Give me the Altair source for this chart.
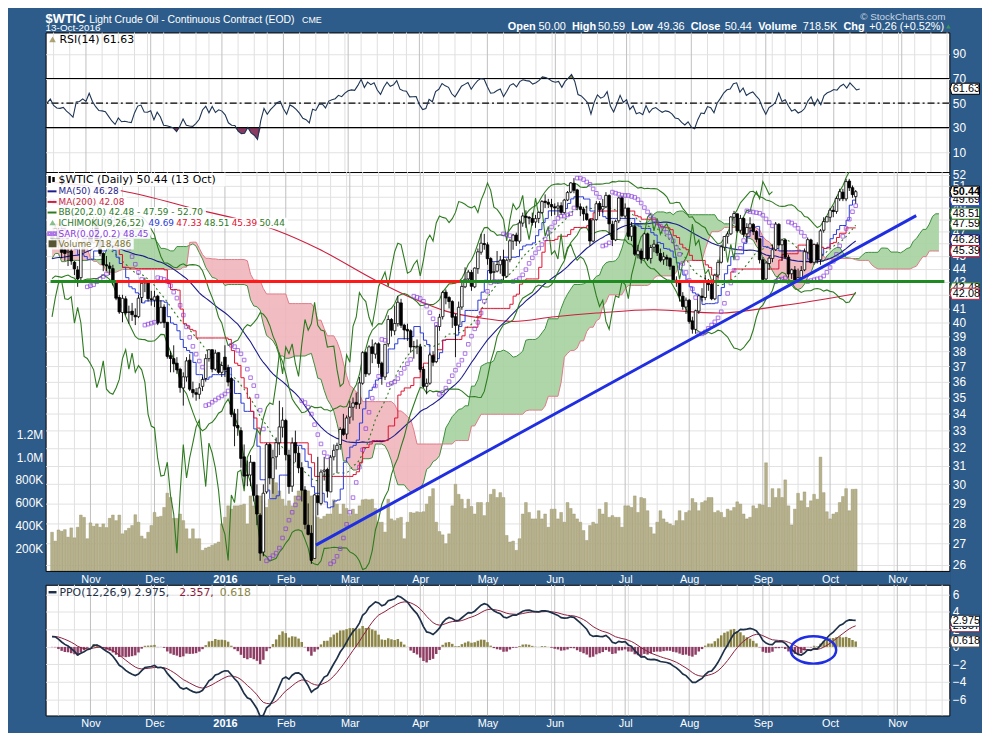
import altair as alt
import numpy as np
import pandas as pd

FONT = "Liberation Sans"
LFONT = "DejaVu Sans"
BG = "#2e5c8a"

# ---------------- values ----------------
# warm-up closes before the visible window (1 Jul 2015 - 14 Oct 2015)
pre_close = [56.96, 56.93, 52.53, 52.33, 51.65, 52.78, 52.74, 52.20, 53.04, 51.41,
             50.91, 50.89, 50.15, 50.36, 49.19, 48.45, 48.14, 47.39, 47.98, 48.79,
             48.52, 47.12,
             45.17, 45.74, 45.15, 44.66, 43.87, 44.96, 43.08, 43.30, 42.23, 42.50,
             41.87, 42.62, 40.80, 41.14, 40.45, 38.24, 39.31, 38.60, 42.56, 45.22, 49.20,
             45.41, 46.25, 46.75, 46.05, 45.94, 44.15, 45.92, 44.63, 44.00, 45.59,
             47.15, 46.90, 44.68, 46.68, 45.83, 44.48, 44.91, 45.70, 44.43, 45.23, 45.09,
             44.74, 45.54, 46.26, 48.53, 47.81, 49.43, 49.63, 47.10, 46.66, 46.64]

# daily candles 15 Oct 2015 - 13 Oct 2016
opens = [46.6, 46.4, 47.1, 45.9, 45.5, 45.3, 45.4, 44.5, 43.9, 43.3, 45.9, 46.1,
         46.6, 46.1, 47.9, 46.3, 45.2, 44.3, 44.2, 44.0, 42.9, 41.8, 40.7, 41.7, 40.7, 40.8, 40.5, 40.4, 41.8, 42.9, 43.0, 41.7,
         41.6, 41.9, 40.0, 41.1, 40.0, 37.7, 37.5, 37.2, 36.8, 35.6, 36.3, 37.4, 35.5, 35.3, 35.2, 35.7, 36.2, 37.5, 38.1, 36.8, 37.9, 36.6,
         37.6, 36.9, 36.2, 34.0, 33.3, 33.0, 31.5, 30.5, 30.5, 31.2, 29.4, 28.4, 26.6, 29.6, 32.2, 30.3, 31.5, 32.3, 33.2,
         33.6, 31.6, 29.9, 32.3, 31.7, 30.9, 29.7, 27.9, 27.5, 26.3, 29.4, 29.0, 30.7, 30.8, 29.6, 31.5, 31.9, 32.2, 33.1, 32.8,
         33.8, 34.4, 34.7, 34.6, 35.9, 37.9, 36.5, 38.3, 37.8, 38.5, 37.2, 36.3, 38.5, 40.2, 39.4, 39.9, 41.4, 39.8, 39.5, 39.4, 38.3, 38.3,
         38.3, 36.8, 35.7, 35.9, 37.7, 37.3, 39.7, 40.4, 42.2, 41.8, 41.5, 40.4, 39.8, 41.1, 42.6, 43.2, 43.7, 42.6, 44.0, 45.3, 46.0,
         45.9, 44.8, 43.7, 43.8, 44.3, 44.7, 43.4, 44.7, 46.2, 46.7, 46.2, 47.7, 48.3, 48.2, 48.1, 47.8, 48.1, 48.6, 49.6, 49.5, 49.3,
         49.1, 49.0, 49.2, 48.6, 49.7, 50.4, 51.2, 50.6, 49.1, 48.9, 48.5, 48.0, 46.2, 48.0, 49.4, 48.9, 49.1, 50.1, 47.6, 46.3, 47.9, 49.9,
         48.3, 49.0, 46.6, 47.4, 45.1, 45.4, 44.8, 46.8, 44.8, 45.7, 45.9, 45.2, 44.7, 44.9, 44.8, 44.2, 43.1, 42.9, 41.9, 41.1,
         41.6, 40.1, 39.5, 40.8, 41.9, 41.8, 43.0, 42.8, 41.7, 43.5, 44.5, 45.7, 46.6, 46.8, 48.2, 48.5, 47.1, 48.1, 46.8, 47.3, 47.6, 47.0, 46.4,
         44.7, 43.2, 44.4, 44.8, 45.5, 47.6, 45.9, 46.3, 44.9, 43.6, 43.9, 43.0, 43.3, 43.9, 45.3, 46.3, 44.5, 45.9, 44.7, 47.1, 47.8,
         48.2, 48.8, 48.7, 49.8, 50.4, 49.8, 51.4, 50.8, 50.00]
highs = [47.0, 47.6, 47.3, 46.3, 46.0, 45.8, 45.6, 44.6, 44.2, 46.1, 46.5, 46.8,
         46.8, 48.2, 48.2, 46.6, 45.3, 45.0, 44.5, 44.3, 43.0, 42.0, 42.0, 41.9, 41.2, 41.4, 41.0, 42.0, 43.0, 43.3, 43.1, 42.3,
         42.3, 42.0, 41.6, 41.3, 40.0, 38.0, 38.4, 37.6, 36.9, 36.6, 37.6, 37.8, 36.0, 35.6, 35.9, 36.3, 37.8, 38.1, 38.1, 38.1, 37.9, 37.3,
         38.4, 37.1, 36.3, 34.3, 34.3, 33.2, 32.2, 31.3, 31.6, 31.2, 30.0, 28.5, 30.0, 32.3, 32.3, 31.9, 32.6, 34.8, 34.4,
         33.7, 31.9, 32.6, 33.0, 32.1, 31.2, 29.9, 29.0, 27.9, 29.5, 31.5, 30.8, 31.5, 30.9, 31.6, 32.2, 32.3, 33.2, 34.0, 33.9,
         34.8, 35.0, 35.3, 36.3, 38.0, 38.0, 38.4, 38.8, 38.6, 38.6, 37.3, 38.5, 40.5, 40.3, 41.2, 41.9, 41.7, 39.9, 39.9, 39.5, 38.7, 38.8,
         38.5, 37.0, 36.2, 37.9, 38.0, 39.8, 40.6, 42.3, 42.4, 41.9, 41.6, 40.6, 41.5, 42.9, 44.1, 43.9, 43.9, 44.1, 45.6, 46.8, 46.8,
         46.1, 44.9, 44.5, 45.4, 45.0, 45.5, 44.8, 46.4, 46.8, 46.9, 48.0, 48.6, 48.8, 48.3, 48.6, 48.4, 48.7, 49.7, 50.2, 49.8, 49.8,
         49.4, 49.5, 49.5, 49.8, 50.5, 51.3, 51.67, 50.7, 49.4, 49.1, 49.2, 48.1, 48.1, 49.6, 49.6, 49.8, 50.4, 50.2, 47.9, 48.0, 50.0, 50.1,
         49.4, 49.0, 47.8, 47.6, 45.9, 45.6, 46.9, 46.9, 45.9, 46.3, 46.1, 45.6, 45.3, 45.1, 44.9, 44.2, 43.4, 43.0, 42.2, 41.8,
         41.7, 40.4, 40.9, 42.0, 42.5, 43.5, 43.2, 43.0, 43.6, 44.7, 45.9, 46.6, 47.0, 48.3, 48.75, 48.5, 48.4, 48.2, 47.7, 48.2, 47.7, 47.1, 46.4,
         44.9, 44.6, 45.0, 45.9, 47.8, 47.7, 46.4, 46.4, 45.1, 44.0, 44.2, 44.0, 44.2, 45.6, 46.5, 46.4, 46.0, 46.1, 47.2, 48.2, 48.3,
         49.0, 49.2, 50.0, 50.7, 50.7, 51.6, 51.6, 51.0, 50.59]
lows = [45.6, 46.2, 45.6, 44.8, 44.6, 44.2, 44.3, 43.5, 42.6, 43.0, 45.3, 45.7,
        45.9, 46.0, 46.1, 45.0, 43.8, 43.8, 43.5, 42.7, 41.6, 40.6, 40.0, 40.5, 39.9, 40.1, 39.8, 40.3, 41.4, 42.2, 41.5, 41.2,
        41.1, 39.8, 39.9, 39.6, 37.5, 36.6, 36.6, 36.5, 35.3, 34.5, 36.0, 35.4, 35.0, 34.8, 34.9, 35.4, 36.0, 37.3, 36.6, 36.7, 36.5, 36.3,
        36.3, 35.7, 33.8, 32.1, 32.7, 30.9, 29.9, 29.9, 29.9, 29.1, 27.9, 26.19, 26.4, 29.5, 30.0, 29.5, 30.8, 31.6, 32.6,
        31.3, 29.5, 29.6, 31.2, 30.6, 29.1, 27.7, 27.4, 26.05, 26.3, 28.4, 28.9, 30.2, 29.3, 29.6, 31.3, 30.6, 31.9, 32.7, 32.5,
        33.4, 33.6, 34.3, 34.3, 35.8, 36.3, 36.4, 37.2, 37.5, 36.9, 35.8, 36.1, 38.3, 39.0, 39.1, 39.7, 39.6, 38.8, 38.7, 37.9, 37.5, 37.8,
        36.6, 35.6, 35.2, 35.8, 37.0, 37.2, 39.4, 40.2, 41.3, 41.0, 39.6, 37.6, 39.4, 40.9, 42.5, 42.9, 42.3, 42.5, 43.6, 45.1, 45.5,
        44.3, 43.0, 43.0, 43.7, 43.6, 43.0, 43.3, 44.5, 45.5, 45.8, 46.0, 47.4, 47.3, 47.6, 47.5, 47.3, 47.7, 48.5, 49.0, 49.0, 48.3,
        48.4, 48.3, 48.4, 48.5, 49.6, 50.3, 50.3, 48.8, 48.3, 47.9, 47.9, 45.8, 46.1, 47.9, 48.3, 48.6, 49.0, 46.7, 45.8, 46.2, 47.7, 48.2,
        48.1, 46.3, 46.2, 45.0, 44.8, 44.4, 44.7, 44.6, 44.4, 45.3, 45.0, 44.5, 44.3, 44.2, 43.9, 42.9, 42.6, 41.5, 40.9, 40.6,
        39.9, 39.2, 39.19, 40.6, 41.5, 41.6, 42.3, 41.6, 41.6, 43.3, 44.4, 45.4, 46.0, 46.7, 47.6, 46.9, 46.9, 46.5, 46.1, 46.9, 46.7, 46.1, 44.4,
        43.0, 43.0, 43.9, 44.5, 45.4, 45.6, 44.6, 44.8, 43.3, 43.2, 43.06, 43.1, 43.1, 43.8, 45.2, 44.4, 44.3, 44.4, 44.3, 46.9, 47.85,
        47.78, 48.2, 48.5, 49.6, 49.6, 49.6, 50.5, 49.9, 49.36]
closes = [46.38, 47.26, 45.89, 45.29, 45.20, 45.38, 44.60, 43.98, 43.20, 45.94, 46.06, 46.59,
          46.14, 47.90, 46.32, 45.20, 44.29, 44.21, 44.02, 42.93, 41.75, 40.74, 41.74, 40.67, 40.75, 40.54, 40.39, 41.75, 42.87, 43.04, 41.71, 41.65,
          41.85, 39.94, 41.08, 39.97, 37.65, 37.51, 37.16, 36.76, 35.62, 36.31, 37.35, 35.52, 35.30, 35.20, 35.60, 36.14, 37.50, 38.10, 36.81, 37.87, 36.60, 37.04,
          36.76, 35.97, 33.97, 33.27, 33.16, 31.41, 30.44, 30.48, 31.20, 29.42, 28.46, 26.55, 29.53, 32.19, 30.34, 31.45, 32.30, 33.22, 33.62,
          31.62, 29.88, 32.28, 31.72, 30.89, 29.69, 27.94, 27.45, 26.21, 29.44, 29.04, 30.66, 30.77, 29.64, 31.48, 31.87, 32.15, 33.07, 32.78, 33.75,
          34.40, 34.66, 34.57, 35.92, 37.90, 36.50, 38.29, 37.84, 38.50, 37.18, 36.34, 38.46, 40.20, 39.44, 39.91, 41.45, 39.79, 39.46, 39.39, 38.28, 38.32, 38.34,
          36.79, 35.70, 35.89, 37.75, 37.26, 39.72, 40.36, 42.17, 41.76, 41.50, 40.36, 39.78, 41.08, 42.63, 43.18, 43.73, 42.64, 44.04, 45.33, 46.03, 45.92,
          44.78, 43.65, 43.78, 44.32, 44.66, 43.44, 44.66, 46.23, 46.70, 46.21, 47.72, 48.31, 48.19, 48.12, 47.75, 48.08, 48.62, 49.56, 49.48, 49.33, 49.10,
          49.01, 49.17, 48.62, 49.69, 50.36, 51.23, 50.56, 49.07, 48.88, 48.49, 48.01, 46.21, 47.98, 49.37, 48.85, 49.13, 50.11, 47.64, 46.33, 47.85, 49.88, 48.33,
          48.99, 46.60, 47.43, 45.14, 45.41, 44.76, 46.80, 44.75, 45.68, 45.95, 45.24, 44.65, 44.94, 44.75, 44.19, 43.13, 42.92, 41.92, 41.14, 41.60,
          40.06, 39.51, 40.83, 41.93, 41.80, 43.02, 42.77, 41.71, 43.49, 44.49, 45.74, 46.58, 46.79, 48.22, 48.52, 47.05, 48.10, 46.77, 47.33, 47.64, 46.98, 46.35, 44.70,
          43.16, 44.44, 44.83, 45.50, 47.62, 45.88, 46.29, 44.90, 43.58, 43.91, 43.03, 43.30, 43.85, 45.34, 46.32, 44.48, 45.93, 44.67, 47.05, 47.83, 48.24,
          48.81, 48.69, 49.83, 50.44, 49.81, 51.35, 50.79, 50.18, 50.44]
volume_k = [340, 262, 360, 349, 363, 297, 378, 291, 384, 491, 471, 283, 422, 393, 413, 384, 413, 381, 462, 491,
            442, 491, 326, 355, 375, 399, 494, 428, 306, 283, 340, 399, 514, 474, 480, 558, 683, 645, 462, 462,
            500, 442, 370, 283, 370, 283, 283, 181, 201, 210, 225, 239, 254, 413, 471, 572, 543, 572, 572, 578,
            587, 413, 659, 572, 578, 659, 616, 558, 630, 804, 775, 703, 630, 572, 616, 572, 659, 703, 717, 688,
            703, 659, 486, 471, 457, 480, 500,
            500, 625, 587, 500, 587, 549, 486, 543, 500, 572,
            625, 630, 625, 630, 549, 428, 428, 341, 630, 457,
            442, 462, 471, 283, 428, 514, 509, 520, 514, 520,
            587, 654, 723, 428, 346, 317, 239, 326, 572, 761,
            673, 630, 549, 630, 566, 500, 601, 601, 486, 601,
            673, 717, 645, 688, 645, 312, 254, 262, 181, 283,
            500, 601, 514, 457, 457, 529, 457, 500, 384, 543,
            543, 457, 514, 428, 601, 549, 500, 457, 428, 355,
            268, 399, 428, 413, 543, 500, 601, 471, 486, 471,
            471, 384, 572, 572, 558, 659, 514, 645, 636, 529,
            384, 326, 428, 529, 457, 428, 413, 399, 442, 529,
            442, 514, 529, 636, 601, 529, 601, 616, 645, 645,
            514, 529, 514, 471, 543, 529, 558, 607, 587, 500,
            457, 471, 572, 549, 587, 578, 950, 558, 723, 645,
            723, 645, 800, 572, 404, 543, 682, 616, 694, 558,
            616, 673, 630, 1000, 688, 520, 457, 500, 514, 601,
            654, 723, 529, 717, 718.5]
# 200-day moving average (trading-day index, value)
ma200_idx = [0, 22, 45, 70, 83, 101, 113, 123, 134, 144, 157, 170, 188, 208, 228, 251]
ma200_val = [51.3, 50.5, 48.9, 47.1, 45.6, 43.1, 41.7, 40.8, 40.3, 40.06, 40.4, 40.66, 40.9, 40.66, 41.2, 42.08]
# hand-drawn annotations
trend_idx = [82.4, 269.9]
trend_val = [26.93, 48.34]
level_price = 43.0
level_from = [-0.46, 20.0, 127.4, 194.6]
level_to = [20.0, 127.4, 278.7, 206.9]
level_col = ["#1f8a1f", "#ff1a1a", "#1f8a1f", "#ff1a1a"]
ellipse_idx = [237.8]
ellipse_val = [-0.35]
holidays = ["2015-07-03", "2015-09-07", "2015-11-26", "2015-12-25", "2016-01-01", "2016-01-18",
            "2016-02-15", "2016-03-25", "2016-05-30", "2016-07-04", "2016-09-05", "2016-11-24"]
price_ticks = list(range(26, 53))
main_tags = [(42.48, "42.48", "#2d7a1f"), (42.08, "42.08", "#cc1f3f"), (46.28, "46.28", "#1c1c8c"),
             (45.39, "45.39", "#e0102f"), (47.59, "47.59", "#2d7a1f"), (48.51, "48.51", "#2d7a1f"),
             (49.69, "49.69", "#2b3cd6"), (50.44, "50.44", "#000000")]
ppo_tags = [(2.357, "2.357", "#8b1d3c"), (2.975, "2.975", "#1d3048"), (0.618, "0.618", "#555555")]
rsi_tags = [(61.63, "61.63", "#000000")]

# ---------------- derived tables ----------------
n_pre = len(pre_close)
N = len(closes)
o = np.array(opens, float)
c = np.array(closes, float)
h = np.maximum.reduce([np.array(highs, float), o, c])
l = np.minimum.reduce([np.array(lows, float), o, c])

C_all = np.concatenate([pre_close, c])
H_all = np.concatenate([pre_close, h])
L_all = np.concatenate([pre_close, l])
sc, sh, sl = pd.Series(C_all), pd.Series(H_all), pd.Series(L_all)
ma50 = sc.rolling(50, min_periods=1).mean()
mid20 = sc.rolling(20).mean()
sd20 = sc.rolling(20).std(ddof=0)


def hl_mid(n):
    return (sh.rolling(n, min_periods=1).max() + sl.rolling(n, min_periods=1).min()) / 2


tenkan = hl_mid(9)
kijun = hl_mid(26)
senb = hl_mid(52)
sena = (tenkan + kijun) / 2

d = np.diff(C_all, prepend=C_all[0])
gain = np.clip(d, 0, None)
loss = np.clip(-d, 0, None)
ag = np.full(len(C_all), np.nan)
al = np.full(len(C_all), np.nan)
ag[14] = gain[1:15].mean()
al[14] = loss[1:15].mean()
for k in range(15, len(C_all)):
    ag[k] = (ag[k - 1] * 13 + gain[k]) / 14
    al[k] = (al[k - 1] * 13 + loss[k]) / 14
rsi = 100 - 100 / (1 + ag / al)

e12 = sc.ewm(span=12, adjust=False).mean()
e26 = sc.ewm(span=26, adjust=False).mean()
ppo = (e12 - e26) / e26 * 100
sig = ppo.ewm(span=9, adjust=False).mean()
hist = ppo - sig


def psar(hi, lo, af0=0.02, step=0.02, afmax=0.2):
    n = len(hi)
    out = np.zeros(n)
    up = True
    af = af0
    ep = hi[0]
    out[0] = lo[0]
    for i in range(1, n):
        s = out[i - 1] + af * (ep - out[i - 1])
        if up:
            s = min(s, lo[i - 1], lo[i - 2] if i > 1 else lo[i - 1])
            if lo[i] < s:
                up, s, ep, af = False, ep, lo[i], af0
            elif hi[i] > ep:
                ep = hi[i]
                af = min(af + step, afmax)
        else:
            s = max(s, hi[i - 1], hi[i - 2] if i > 1 else hi[i - 1])
            if hi[i] > s:
                up, s, ep, af = True, ep, hi[i], af0
            elif lo[i] < ep:
                ep = lo[i]
                af = min(af + step, afmax)
        out[i] = s
    return out


sar = psar(H_all, L_all)
m = slice(n_pre, n_pre + N)
df = pd.DataFrame({
    "i": np.arange(N), "o": o, "h": h, "l": l, "c": c, "v": np.array(volume_k) * 1000,
    "ma50": ma50.values[m], "bbu": (mid20 + 2 * sd20).values[m], "bbm": mid20.values[m],
    "bbl": (mid20 - 2 * sd20).values[m], "ten": tenkan.values[m], "kij": kijun.values[m],
    "sar": sar[m], "rsi": rsi[m], "ppo": ppo.values[m], "sig": sig.values[m], "hist": hist.values[m],
})
df["rsi_lo"] = np.minimum(df.rsi, 30)
df["rsi_hi"] = np.maximum(df.rsi, 70)
df["l30"] = 30.0
df["l70"] = 70.0
df["zero"] = 0.0

t = np.arange(n_pre - 26, n_pre + N)
a_ = sena.values[t]
b_ = senb.values[t]
cloud = pd.DataFrame({"i": t - n_pre + 26, "a": a_, "b": b_,
                      "g2": np.where(a_ >= b_, b_, a_), "p2": np.where(b_ > a_, a_, b_)})
t2 = np.arange(n_pre + 26, n_pre + N)
chik = pd.DataFrame({"i": t2 - n_pre - 26, "v": C_all[t2]})
ma200 = pd.DataFrame({"i": ma200_idx, "v": ma200_val})
trend = pd.DataFrame({"i": trend_idx, "v": trend_val})
levels = pd.DataFrame({"x0": level_from, "x1": level_to, "v": [level_price] * len(level_from), "col": level_col})
ell = pd.DataFrame({"i": ellipse_idx, "v": ellipse_val})

dates = pd.bdate_range("2015-07-01", "2016-11-30")
dates = dates[~dates.isin(pd.to_datetime(holidays))]
start = list(dates).index(pd.Timestamp("2015-10-15"))
dd = dates[start:]
LAST = 278
week_idx = [i for i in range(1, len(dd)) if i <= LAST and dd[i].weekday() <= dd[i - 1].weekday()]
month_idx = [i for i in range(1, len(dd)) if i <= LAST and dd[i].month != dd[i - 1].month]
month_lab = [str(dd[i].year) if dd[i].month == 1 else dd[i].strftime("%b") for i in month_idx]
year_idx = [i for i in month_idx if dd[i].month == 1][0]
weeks = pd.DataFrame({"g": [i for i in week_idx if i not in month_idx]})
months = pd.DataFrame({"g": month_idx})
one = pd.DataFrame({"k": [0]})

# ---------------- geometry / scales ----------------
W = 913
H_RSI, H_MAIN, STRIP, H_PPO = 141, 403, 14, 132
xsc = alt.Scale(domain=[-0.46, 278.7], nice=False, zero=False)
lab_expr = ("[" + ",".join("'%s'" % s for s in month_lab) + "][indexof(["
            + ",".join(str(v) for v in month_idx) + "], datum.value)]")


def xaxis(pad, offset=0, domain=False):
    return alt.Axis(values=month_idx, labelExpr=lab_expr, grid=False, ticks=False, domain=domain,
                    domainColor="black", domainWidth=1, offset=offset, zindex=1,
                    labelColor="white", labelFont=FONT, labelFontSize=11, labelPadding=pad,
                    labelFlush=False, labelOverlap=False, title=None, orient="bottom",
                    labelFontWeight={"condition": {"test": "datum.value == %d" % year_idx, "value": "bold"},
                                     "value": "normal"})


def yaxis(values):
    return alt.Axis(orient="right", values=values, grid=True, gridColor="#e2e2e2", ticks=False,
                    domain=False, labelColor="white", labelFont=FONT, labelFontSize=12, labelPadding=3,
                    labelOverlap=False, labelFlush=False, title=None)


def text(s, x, y, size=11, color="white", weight="normal", font=FONT, align="left"):
    return alt.Chart(one).mark_text(text=s, align=align, baseline="alphabetic", font=font, fontSize=size,
                                    fontWeight=weight, color=color).encode(x=alt.value(x), y=alt.value(y))


TAG = "M -1.12 0 L -1 -0.4 L 1 -0.4 L 1 0.4 L -1 0.4 Z"


def tag_layers(items, Yf):
    out = []
    for val, lab, col in items:
        dft = pd.DataFrame({"val": [val]})
        out.append(alt.Chart(dft).mark_point(shape=TAG, size=784, filled=True, fill="white", stroke=col,
                                             strokeWidth=1, opacity=1).encode(x=alt.value(W + 16.5), y=Yf("val")))
        out.append(alt.Chart(dft).mark_text(text=lab, align="left", baseline="middle", font=FONT, fontSize=11,
                                            fontWeight="bold" if lab == "50.44" else "normal",
                                            color="black").encode(x=alt.value(W + 3.5), y=Yf("val")))
    return out


def vgrid(axis):
    return [alt.Chart(weeks).mark_rule(color="#e0e0e0", strokeWidth=1).encode(x=alt.X("g:Q", scale=xsc, axis=axis)),
            alt.Chart(months).mark_rule(color="#bfbfbf", strokeWidth=1).encode(x=alt.X("g:Q", scale=xsc, axis=axis))]


# ---------------- RSI panel ----------------
rsc = alt.Scale(domain=[-6.2, 107.5], nice=False, zero=False)
rax = yaxis([10, 30, 50, 70, 90])


def Yr(f):
    return alt.Y(f + ":Q", scale=rsc, axis=rax, title=None)


Xr = alt.X("i:Q", scale=xsc, axis=None)
rlev = pd.DataFrame({"v": [70.0, 30.0]})
rsi_layers = vgrid(None) + [
    alt.Chart(df).mark_area(color="#8b3a62").encode(x=Xr, y=Yr("rsi_lo"), y2="l30"),
    alt.Chart(df).mark_area(color="#8c8546").encode(x=Xr, y=Yr("rsi_hi"), y2="l70"),
    alt.Chart(rlev).mark_rule(color="black", strokeWidth=1.2).encode(y=Yr("v")),
    alt.Chart(pd.DataFrame({"v": [50.0]})).mark_rule(color="black", strokeWidth=1.2,
                                                     strokeDash=[7, 3, 2, 3]).encode(y=Yr("v")),
    alt.Chart(df).mark_line(color="#1d3454", strokeWidth=1.1).encode(x=Xr, y=Yr("rsi")),
    alt.Chart(one).mark_point(shape="triangle-up", size=45, filled=True, color="#8b7d3a").encode(
        x=alt.value(7), y=alt.value(7)),
    text("RSI(14) 61.63", 14, 10.5, size=11, color="black", font=LFONT),
    # header above the panels
    alt.Chart(one).mark_rect(fill=BG).encode(x=alt.value(-37), x2=alt.value(0), y=alt.value(-20), y2=alt.value(0)),
    text("$WTIC", 0, -10, size=13, weight="bold"),
    text("Light Crude Oil - Continuous Contract (EOD)", 44, -10, size=10.5),
    text("CME", 259, -10, size=9),
    text("13-Oct-2016", 0, -1, size=10),
    text("\u00a9 StockCharts.com", 823, -12.5, size=10, color="#c9d5e2"),
    text("Open", 467, -3, weight="bold"), text("50.00", 498, -3),
    text("High", 531.7, -3, weight="bold"), text("50.59", 558, -3),
    text("Low", 591.7, -3, weight="bold"), text("49.36", 618, -3),
    text("Close", 651.7, -3, weight="bold"), text("50.44", 686, -3),
    text("Volume", 720, -3, weight="bold"), text("718.5K", 765, -3),
    text("Chg", 806, -3, weight="bold"), text("+0.26 (+0.52%)", 832, -3),
    alt.Chart(one).mark_point(shape="triangle-up", size=20, filled=True, color="#3fae3f").encode(
        x=alt.value(912), y=alt.value(-6)),
] + tag_layers(rsi_tags, Yr)
rsi_chart = alt.layer(*rsi_layers).properties(width=W, height=H_RSI)

# ---------------- main price panel (its view also holds the label strip below it) ----------------
HM = H_MAIN + STRIP
p_top = 52.23
p_bot = p_top * np.exp(-HM / 569.0)
psc = alt.Scale(type="log", domain=[p_bot, p_top], nice=False, zero=False)
pax = yaxis(price_ticks)
XA = xaxis(3, offset=-STRIP, domain=True)


def Yp(f):
    return alt.Y(f + ":Q", scale=psc, axis=pax, title=None)


Xm = alt.X("i:Q", scale=xsc, axis=XA)
vsc = alt.Scale(domain=[-STRIP / 11.5 * 100000, H_MAIN / 11.5 * 100000], nice=False, zero=False)
vax = alt.Axis(orient="left", values=[200000, 400000, 600000, 800000, 1000000, 1200000],
               labelExpr="datum.value >= 1000000 ? format(datum.value / 1000000, '.1f') + 'M' : format(datum.value / 1000, 'd') + 'K'",
               grid=False, ticks=False, domain=False, labelColor="white", labelFont=FONT, labelFontSize=12,
               labelPadding=3, title=None, labelFlush=False)
volume = alt.Chart(df).mark_bar(width=2.8, color="#b6b18b", stroke="#939066", strokeWidth=0.4).encode(
    x=Xm, y=alt.Y("v:Q", scale=vsc, axis=vax, title=None), y2="zero")

GREEN = "#2d7a1f"
price = [
    alt.Chart(cloud).mark_area(color="#a5d2a0", opacity=0.9).encode(x=Xm, y=Yp("a"), y2="g2"),
    alt.Chart(cloud).mark_area(color="#efb6bd", opacity=0.9).encode(x=Xm, y=Yp("b"), y2="p2"),
    alt.Chart(cloud).mark_line(color="#3b8f3b", strokeWidth=1).encode(x=Xm, y=Yp("a")),
    alt.Chart(cloud).mark_line(color="#e07a88", strokeWidth=1).encode(x=Xm, y=Yp("b")),
    alt.Chart(ma200).mark_line(color="#cc1f3f", strokeWidth=1.1, interpolate="monotone").encode(x=Xm, y=Yp("v")),
    alt.Chart(df).mark_line(color="#1c1c8c", strokeWidth=1.1).encode(x=Xm, y=Yp("ma50")),
    alt.Chart(df).mark_line(color=GREEN, strokeWidth=1.1, clip=True).encode(x=Xm, y=Yp("bbu")),
    alt.Chart(df).mark_line(color=GREEN, strokeWidth=1.1, clip=True).encode(x=Xm, y=Yp("bbl")),
    alt.Chart(df).mark_line(color=GREEN, strokeWidth=1.1, strokeDash=[2, 3]).encode(x=Xm, y=Yp("bbm")),
    alt.Chart(df).mark_line(color="#2b3cd6", strokeWidth=1, interpolate="step-after").encode(x=Xm, y=Yp("ten")),
    alt.Chart(df).mark_line(color="#e0102f", strokeWidth=1, interpolate="step-after").encode(x=Xm, y=Yp("kij")),
    alt.Chart(chik).mark_line(color=GREEN, strokeWidth=1.1).encode(x=Xm, y=Yp("v")),
    alt.Chart(df).mark_rule(color="black", strokeWidth=0.9).encode(x=Xm, y=Yp("l"), y2="h"),
    alt.Chart(df).mark_bar(width=2.6, stroke="black", strokeWidth=0.8).encode(
        x=Xm, y=Yp("o"), y2="c",
        fill=alt.condition("datum.c < datum.o", alt.value("black"), alt.value("white"))),
    alt.Chart(df).mark_point(shape="square", size=13, filled=False, color="#8a3be0", strokeWidth=1).encode(
        x=Xm, y=Yp("sar")),
    alt.Chart(levels).mark_rule(strokeWidth=3).encode(
        x=alt.X("x0:Q", scale=xsc, axis=XA), x2="x1", y=Yp("v"), color=alt.Color("col:N", scale=None)),
    alt.Chart(trend).mark_line(color="#1f2ee0", strokeWidth=3).encode(x=Xm, y=Yp("v")),
    # the dark label strip between the price panel and the PPO panel
    alt.Chart(one).mark_rect(fill=BG).encode(x=alt.value(-1.5), x2=alt.value(W + 1.5),
                                             y=alt.value(H_MAIN + 0.5), y2=alt.value(HM + 0.5)),
]

# legend block (top-left of the price panel)
rows = [
    ("MA(50) 46.28", "#1c1c8c", 76),
    ("MA(200) 42.08", "#cc1f3f", 82),
    ("BB(20,2.0) 42.48 - 47.59 - 52.70", GREEN, 162),
    ("ICHIMOKU(9,26,52)", GREEN, 245),
    ("SAR(0.02,0.2) 48.45", "#8a3be0", 106),
    ("Volume 718,486", "#7b7434", 89),
]
legend = [alt.Chart(one).mark_rect(fill="white", opacity=0.9).encode(
    x=alt.value(1), x2=alt.value(182), y=alt.value(1), y2=alt.value(14.5))]
for k, (s, col, w) in enumerate(rows):
    base = 22.5 + 10.7 * k
    legend.append(alt.Chart(one).mark_rect(fill="white", opacity=0.9).encode(
        x=alt.value(1), x2=alt.value(w), y=alt.value(base - 8.5), y2=alt.value(base + 2.2)))
legend.append(text("$WTIC (Daily) 50.44 (13 Oct)", 13, 11.5, size=11, color="black", font=LFONT))
legend.append(alt.Chart(one).mark_rule(color="black", strokeWidth=2.5).encode(
    x=alt.value(4), y=alt.value(4), y2=alt.value(11)))
legend.append(alt.Chart(one).mark_rule(color="black", strokeWidth=2.5).encode(
    x=alt.value(8), y=alt.value(5), y2=alt.value(10)))
for k, (s, col, w) in enumerate(rows):
    base = 22.5 + 10.7 * k
    legend.append(text(s, 13, base, size=9, color=col, font=LFONT))
    if k == 3:
        legend.append(alt.Chart(one).mark_point(shape="triangle-up", size=40, filled=True, color="#5aa65a").encode(
            x=alt.value(7), y=alt.value(base - 3.5)))
    elif k == 4:
        for xx in (4, 9):
            legend.append(alt.Chart(one).mark_point(shape="square", size=8, filled=False, color=col).encode(
                x=alt.value(xx), y=alt.value(base - 3)))
    elif k == 5:
        legend.append(alt.Chart(one).mark_bar(color="#555533").encode(
            x=alt.value(3), x2=alt.value(11), y=alt.value(base - 7), y2=alt.value(base)))
    else:
        legend.append(alt.Chart(one).mark_rule(color=col, strokeWidth=2).encode(
            x=alt.value(2), x2=alt.value(11), y=alt.value(base - 3)))
ich_nums = [("49.69", "#2b3cd6"), ("47.33", "#e0102f"), ("48.51", GREEN), ("45.39", "#e0102f"), ("50.44", GREEN)]
for k, (s, col) in enumerate(ich_nums):
    legend.append(text(s, 104 + 28 * k, 22.5 + 10.7 * 3, size=9, color=col, font=LFONT))

price_layer = alt.layer(*(price + legend + tag_layers(main_tags, Yp)))
main_chart = alt.layer(*vgrid(XA), volume, price_layer).resolve_scale(y="independent").properties(
    width=W, height=HM)

# ---------------- PPO panel ----------------
qsc = alt.Scale(domain=[-7.83, 7.09], nice=False, zero=False)
qax = yaxis([-6, -4, -2, 0, 2, 4, 6])
XB = xaxis(2)


def Yq(f):
    return alt.Y(f + ":Q", scale=qsc, axis=qax, title=None)


Xq = alt.X("i:Q", scale=xsc, axis=XB)
ppo_layers = vgrid(XB) + [
    alt.Chart(df).mark_bar(width=2.5).encode(
        x=Xq, y=Yq("hist"), y2="zero",
        color=alt.condition("datum.hist >= 0", alt.value("#8c8546"), alt.value("#8e3d64"))),
    alt.Chart(df).mark_line(color="#8b1d3c", strokeWidth=1).encode(x=Xq, y=Yq("sig")),
    alt.Chart(df).mark_line(color="#1d3048", strokeWidth=1.7).encode(x=Xq, y=Yq("ppo")),
    alt.Chart(ell).mark_point(shape="M -1 0 A 1 0.6 0 1 0 1 0 A 1 0.6 0 1 0 -1 0 Z", size=2116,
                              filled=False, color="#1f2ee0", strokeWidth=2.5, opacity=1).encode(x=Xq, y=Yq("v")),
    alt.Chart(one).mark_rule(color="#1d3048", strokeWidth=2.5).encode(x=alt.value(3), x2=alt.value(11),
                                                                       y=alt.value(7.5)),
    text("PPO(12,26,9) 2.975,", 14, 11.3, size=11, color="#1d3048", font=LFONT),
    text("2.357,", 135, 11.3, size=11, color="#8b1d3c", font=LFONT),
    text("0.618", 176, 11.3, size=11, color="#8c8546", font=LFONT),
] + tag_layers(ppo_tags, Yq)
ppo_chart = alt.layer(*ppo_layers).properties(width=W, height=H_PPO)

chart = alt.vconcat(rsi_chart, main_chart, ppo_chart, spacing=0, bounds="flush").resolve_scale(
    y="independent", x="independent").properties(padding=0, background=BG).configure_view(
    fill="white", stroke="black", strokeWidth=1)

chart.save("out.html", embed_options={"renderer": "svg", "actions": False})
